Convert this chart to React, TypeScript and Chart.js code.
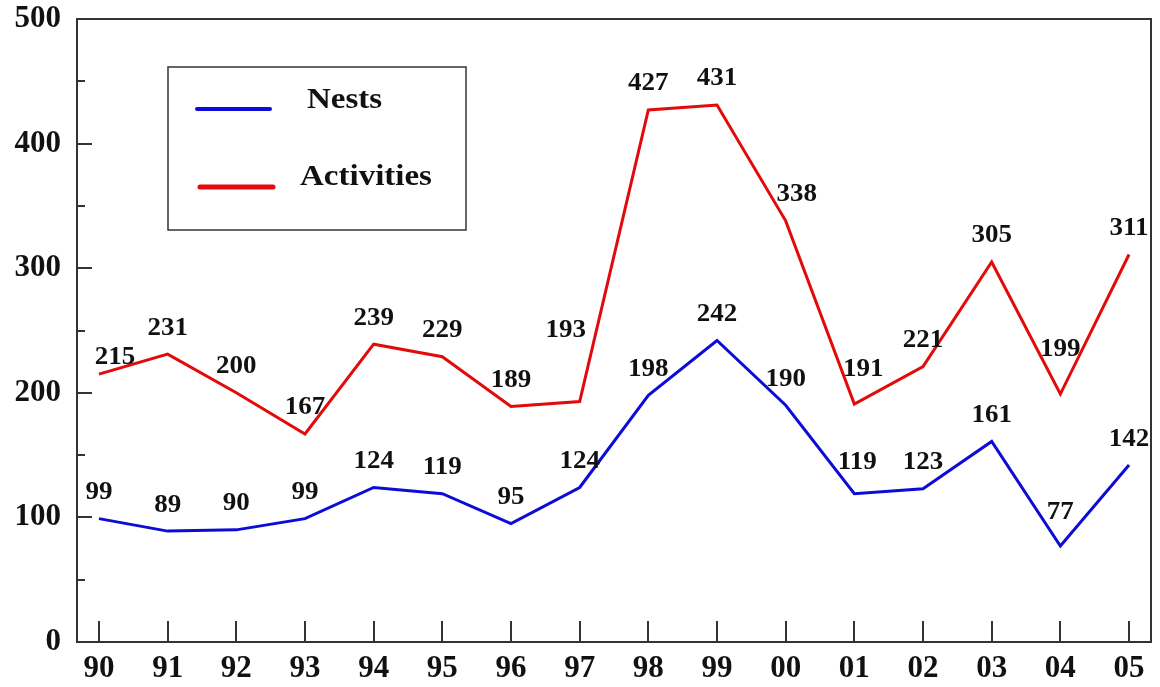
import React, { useEffect, useRef } from "react";
import { Chart, registerables } from "chart.js";

Chart.register(...registerables);

const years = ["90", "91", "92", "93", "94", "95", "96", "97", "98", "99", "00", "01", "02", "03", "04", "05"];
const nests = [99, 89, 90, 99, 124, 119, 95, 124, 198, 242, 190, 119, 123, 161, 77, 142];
const activities = [215, 231, 200, 167, 239, 229, 189, 193, 427, 431, 338, 191, 221, 305, 199, 311];
const yTickValues = [0, 100, 200, 300, 400, 500];
const yMinorValues = [50, 150, 250, 350, 450];
const seriesNames = ["Nests", "Activities"];

const BLUE = "#0c0cd6";
const RED = "#e20a0a";
const FRAME = "#333333";
const FONT = '"Liberation Serif", "Times New Roman", serif';

// label placement tweaks (style only): [dx, dy] relative to the point
const labelOffsets: Record<string, [number, number]> = {
  "1-0": [16, -17],
  "1-7": [-14, -71],
  "1-10": [11, -26],
  "1-11": [9, -34],
  "1-14": [0, -44],
  "0-11": [3, -31],
  "0-14": [0, -34],
};

function stretchedText(ctx: CanvasRenderingContext2D, text: string, x: number, y: number, sx: number, align: CanvasTextAlign) {
  ctx.save();
  ctx.translate(x, y);
  ctx.scale(sx, 1);
  ctx.textAlign = align;
  ctx.fillText(text, 0, 0);
  ctx.restore();
}

const framePlugin = {
  id: "frameAndExtras",
  afterDatasetsDraw(chart: any) {
    const { ctx, chartArea } = chart;
    const xs = chart.scales.x;
    const ys = chart.scales.y;
    ctx.save();
    // frame
    ctx.strokeStyle = FRAME;
    ctx.lineWidth = 2;
    ctx.strokeRect(chartArea.left, chartArea.top, chartArea.right - chartArea.left, chartArea.bottom - chartArea.top);
    // inward ticks on y
    ctx.beginPath();
    yTickValues.forEach((v) => {
      if (v === 0 || v === 500) return;
      const py = Math.round(ys.getPixelForValue(v));
      ctx.moveTo(chartArea.left, py);
      ctx.lineTo(chartArea.left + 15, py);
    });
    yMinorValues.forEach((v) => {
      const py = Math.round(ys.getPixelForValue(v));
      ctx.moveTo(chartArea.left, py);
      ctx.lineTo(chartArea.left + 8, py);
    });
    // inward ticks on x
    years.forEach((_, i) => {
      const px = Math.round(xs.getPixelForValue(i));
      ctx.moveTo(px, chartArea.bottom);
      ctx.lineTo(px, chartArea.bottom - 21);
    });
    ctx.stroke();

    // data labels
    ctx.fillStyle = "#111";
    ctx.font = `bold 25px ${FONT}`;
    ctx.textBaseline = "middle";
    chart.data.datasets.forEach((ds: any, di: number) => {
      const meta = chart.getDatasetMeta(di);
      meta.data.forEach((pt: any, i: number) => {
        const off = labelOffsets[`${di}-${i}`] || [0, -26];
        stretchedText(ctx, String(ds.data[i].y), pt.x + off[0], pt.y + off[1], 1.08, "center");
      });
    });

    // legend box
    ctx.strokeStyle = FRAME;
    ctx.lineWidth = 1.5;
    ctx.strokeRect(168, 67, 298, 163);
    ctx.lineCap = "round";
    ctx.strokeStyle = BLUE;
    ctx.lineWidth = 4;
    ctx.beginPath();
    ctx.moveTo(197, 109);
    ctx.lineTo(270, 109);
    ctx.stroke();
    ctx.strokeStyle = RED;
    ctx.lineWidth = 5;
    ctx.beginPath();
    ctx.moveTo(200, 187);
    ctx.lineTo(273, 187);
    ctx.stroke();
    ctx.fillStyle = "#111";
    ctx.font = `bold 30px ${FONT}`;
    ctx.textBaseline = "middle";
    stretchedText(ctx, seriesNames[0], 307, 100, 1.1, "left");
    stretchedText(ctx, seriesNames[1], 300, 177, 1.1, "left");
    ctx.restore();
  },
};

export default function App() {
  const ref = useRef<HTMLCanvasElement | null>(null);
  useEffect(() => {
    document.body.style.margin = "0";
    const canvas = ref.current;
    if (!canvas) return;
    const chart = new Chart(canvas, {
      type: "line",
      data: {
        datasets: [
          {
            label: seriesNames[0],
            data: nests.map((v, i) => ({ x: i, y: v })),
            borderColor: BLUE,
            borderWidth: 3,
            pointRadius: 0,
            tension: 0,
          },
          {
            label: seriesNames[1],
            data: activities.map((v, i) => ({ x: i, y: v })),
            borderColor: RED,
            borderWidth: 3,
            pointRadius: 0,
            tension: 0,
          },
        ],
      },
      options: {
        animation: false,
        responsive: false,
        layout: { padding: { top: 0, right: 9, left: 0, bottom: 0 } },
        plugins: { legend: { display: false }, tooltip: { enabled: false } },
        scales: {
          x: {
            type: "linear",
            min: -0.32,
            max: 15.32,
            grid: { display: false },
            border: { display: false },
            afterBuildTicks: (s: any) => {
              s.ticks = years.map((_, i) => ({ value: i }));
            },
            afterFit: (s: any) => {
              s.height = 45;
              s.paddingLeft = 0;
              s.paddingRight = 0;
            },
            ticks: {
              autoSkip: false,
              maxRotation: 0,
              padding: 0,
              color: "#111",
              font: { family: FONT, size: 31, weight: "bold" },
              callback: (v: any) => years[v as number] ?? "",
            },
          },
          y: {
            min: 0,
            max: 500,
            grid: { display: false },
            border: { display: false },
            afterBuildTicks: (s: any) => {
              s.ticks = yTickValues.map((v) => ({ value: v }));
            },
            afterFit: (s: any) => {
              s.width = 77;
              s.paddingTop = 19;
              s.paddingBottom = 0;
            },
            ticks: {
              padding: 8,
              color: "#111",
              font: { family: FONT, size: 31, weight: "bold" },
            },
          },
        },
      } as any,
      plugins: [framePlugin],
    });
    return () => chart.destroy();
  }, []);
  return (
    <div style={{ width: 1160, height: 687, background: "#fff" }}>
      <canvas ref={ref} width={1160} height={687} style={{ display: "block" }} />
    </div>
  );
}
